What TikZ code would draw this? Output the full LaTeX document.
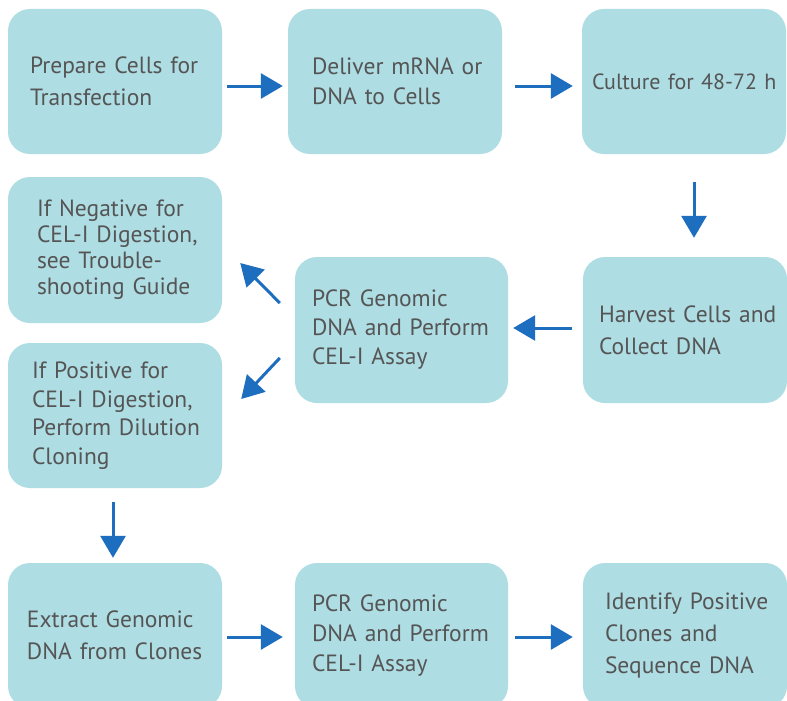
\documentclass[tikz,border=0pt]{standalone}
\usepackage{fontspec}
\setmainfont{PT Sans}[WordSpace=0.8]
\usetikzlibrary{arrows.meta}
\definecolor{boxfill}{RGB}{174,221,227}
\definecolor{arrowblue}{RGB}{30,110,191}
\definecolor{txtgrey}{RGB}{85,85,85}
\tikzset{
  stepbox/.style={draw=none, fill=boxfill, rounded corners=22pt, minimum height=145pt,
    align=left, text=txtgrey, anchor=center},
  lsp/.style={font=\fontsize{23.5}{#1}\selectfont},
  flow/.style={draw=arrowblue, line width=3pt, -{Triangle[length=22pt,width=25pt]}}
}
\begin{document}
\begin{tikzpicture}[x=1pt,y=-1pt]
\clip (0,0) rectangle (787,701);
\fill[white] (0,0) rectangle (787,701);
% row 1
\node[stepbox, lsp=32pt, minimum width=214pt, text width=170pt, inner xsep=22pt] (b1) at (115,81.5)
  {\mbox{Prepare Cells for}\\\mbox{Transfection}};
\node[stepbox, lsp=30pt, minimum width=214pt, text width=166pt, inner xsep=24pt] (b2) at (395,81.5)
  {\mbox{Deliver mRNA or}\\\mbox{DNA to Cells}};
\node[stepbox, font=\fontsize{22}{30}\selectfont, minimum width=204pt, text width=184pt, inner xsep=10pt] (b3) at (684,81.5)
  {\mbox{Culture for 48-72 h}};
% row 2/3
\node[stepbox, lsp=26pt, minimum width=214pt, minimum height=146pt, text width=156pt, inner xsep=29pt] (neg) at (115,250)
  {\mbox{If Negative for}\\\mbox{CEL-I Digestion,}\\\mbox{see Trouble-}\\\mbox{shooting Guide}};
\node[stepbox, lsp=28.5pt, minimum width=214pt, text width=166pt, inner xsep=24pt] (pos) at (115,415.5)
  {\mbox{If Positive for}\\\mbox{CEL-I Digestion,}\\\mbox{Perform Dilution}\\\mbox{Cloning}};
\node[stepbox, lsp=29pt, minimum width=213pt, minimum height=146pt, text width=179pt, inner xsep=17pt] (pcr) at (401.5,330)
  {\mbox{PCR Genomic}\\\mbox{DNA and Perform}\\\mbox{CEL-I Assay}};
\node[stepbox, lsp=32pt, minimum width=204pt, minimum height=146pt, text width=172pt, inner xsep=16pt] (harv) at (685,330)
  {\mbox{Harvest Cells and}\\\mbox{Collect DNA}};
% row 4
\node[stepbox, lsp=32pt, minimum width=214pt, text width=176pt, inner xsep=19pt] (ext) at (115,635.5)
  {\mbox{Extract Genomic}\\\mbox{DNA from Clones}};
\node[stepbox, lsp=30pt, minimum width=213pt, text width=179pt, inner xsep=17pt] (pcr2) at (401.5,635.5)
  {\mbox{PCR Genomic}\\\mbox{DNA and Perform}\\\mbox{CEL-I Assay}};
\node[stepbox, lsp=32pt, minimum width=204pt, text width=160pt, inner xsep=22pt] (ident) at (685,635.5)
  {\mbox{Identify Positive}\\\mbox{Clones and}\\\mbox{Sequence DNA}};
% connectors
\draw[flow] ([shift={(5,4.5)}]b1.east) -- ([shift={(-5,4.5)}]b2.west);
\draw[flow] ([shift={(13,4.5)}]b2.east) -- ([shift={(-9,4.5)}]b3.west);
\draw[flow] ([shift={(10,28)}]b3.south) -- ([shift={(9,-19)}]harv.north);
\draw[flow] ([shift={(-11,-2)}]harv.west) -- ([shift={(5,-2)}]pcr.east);
\draw[flow] ([shift={(-15,-27)}]pcr.west) -- ([shift={(18,13)}]neg.east);
\draw[flow] ([shift={(-15,28)}]pcr.west) -- ([shift={(19,-16.5)}]pos.east);
\draw[flow] ([shift={(-2,14)}]pos.south) -- ([shift={(-2,-5)}]ext.north);
\draw[flow] ([shift={(5,1.5)}]ext.east) -- ([shift={(-12,1.5)}]pcr2.west);
\draw[flow] ([shift={(7,1.5)}]pcr2.east) -- ([shift={(-10,1.5)}]ident.west);
\end{tikzpicture}
\end{document}
